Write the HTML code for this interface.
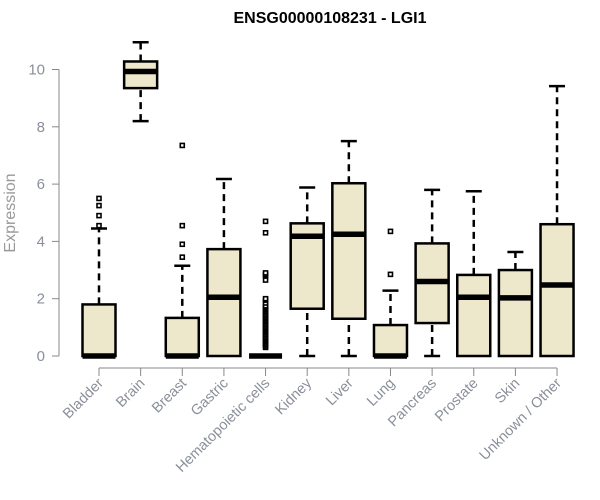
<!DOCTYPE html>
<html><head><meta charset="utf-8"><style>
body{margin:0;background:#fff}
svg{display:block;font-family:"Liberation Sans",Arial,sans-serif}
</style></head><body>
<svg id="chart" width="600" height="500">
<text x="330" y="23" text-anchor="middle" font-weight="bold" font-size="16" fill="#000">ENSG00000108231 - LGI1</text>
<text transform="translate(15,213) rotate(-90)" text-anchor="middle" font-size="16" fill="#999">Expression</text>
<g id="yaxis"></g>
<g id="xaxis"></g>
<g id="boxes"></g>
</svg>
<script>
const categories=["Bladder","Brain","Breast","Gastric","Hematopoietic cells","Kidney","Liver","Lung","Pancreas","Prostate","Skin","Unknown / Other"];
const whiskerLow=[0,8.2,0,0,0,0,0,0,0,0,0,0];
const q1=[0,9.35,0,0,0,1.65,1.3,0,1.15,0,0,0];
const medians=[0,9.93,0,2.05,0,4.18,4.25,0,2.6,2.05,2.03,2.48];
const q3=[1.8,10.28,1.33,3.73,0,4.63,6.03,1.08,3.93,2.83,3.0,4.6];
const whiskerHigh=[4.45,10.95,3.15,6.18,0,5.88,7.5,2.28,5.8,5.75,3.63,9.42];
const outliers=[[4.55,4.9,5.25,5.5],[],[3.45,3.9,4.55,7.35],[],[0.3,0.35,0.4,0.45,0.5,0.55,0.6,0.65,0.7,0.75,0.8,0.85,0.9,0.95,1.0,1.05,1.1,1.15,1.2,1.25,1.3,1.35,1.4,1.45,1.5,1.55,1.6,1.65,1.7,1.75,1.85,1.95,2.0,2.65,2.8,2.85,2.9,4.3,4.7],[],[],[2.85,4.35],[],[],[],[]];
const yTicks=[0,2,4,6,8,10];
const NS="http://www.w3.org/2000/svg";
const y=v=>356-v*28.65;
const x=i=>99+i*41.64;
const bw=33;
function mk(tag,attrs,parent){const e=document.createElementNS(NS,tag);for(const k in attrs)e.setAttribute(k,attrs[k]);parent.appendChild(e);return e;}
const ya=document.getElementById('yaxis');
mk('line',{x1:59,x2:59,y1:y(0),y2:y(10),stroke:'#888'},ya);
yTicks.forEach(t=>{
  mk('line',{x1:52,x2:59,y1:y(t),y2:y(t),stroke:'#888'},ya);
  const tx=mk('text',{x:45,y:y(t)+5,'text-anchor':'end','font-size':15,fill:'#8a8f99'},ya);
  tx.textContent=t;
  
  
});
const xa=document.getElementById('xaxis');
mk('line',{x1:x(0),x2:x(categories.length-1),y1:368,y2:368,stroke:'#888'},xa);
categories.forEach((c,i)=>{
  mk('line',{x1:x(i),x2:x(i),y1:368,y2:376,stroke:'#888'},xa);
  const tx=mk('text',{transform:`translate(${x(i)+5},384) rotate(-45)`,'text-anchor':'end','font-size':14.5,fill:'#8a8f99'},xa);
  tx.textContent=c;
  
  
});
const bx=document.getElementById('boxes');
categories.forEach((c,i)=>{
  const g=mk('g',{},bx);
  
  
  const cx=x(i);
  if(whiskerHigh[i]>q3[i]){
    mk('line',{x1:cx,x2:cx,y1:y(q3[i]),y2:y(whiskerHigh[i]),stroke:'#000','stroke-width':2.5,'stroke-dasharray':'7,5'},g);
    mk('line',{x1:cx-8,x2:cx+8,y1:y(whiskerHigh[i]),y2:y(whiskerHigh[i]),stroke:'#000','stroke-width':2.5},g);
  }
  if(q1[i]>whiskerLow[i]){
    mk('line',{x1:cx,x2:cx,y1:y(whiskerLow[i]),y2:y(q1[i]),stroke:'#000','stroke-width':2.5,'stroke-dasharray':'7,5'},g);
    mk('line',{x1:cx-8,x2:cx+8,y1:y(whiskerLow[i]),y2:y(whiskerLow[i]),stroke:'#000','stroke-width':2.5},g);
  }
  if(q3[i]>q1[i]) mk('rect',{x:cx-bw/2,y:y(q3[i]),width:bw,height:y(q1[i])-y(q3[i]),fill:'#ede7cc',stroke:'#000','stroke-width':2.5},g);
  mk('line',{x1:cx-bw/2,x2:cx+bw/2,y1:y(medians[i]),y2:y(medians[i]),stroke:'#000','stroke-width':5.5},g);
  outliers[i].forEach(o=>{
    mk('rect',{x:cx-2,y:y(o)-2,width:4,height:4,fill:'#fff',stroke:'#000','stroke-width':1.6},g);
  });
});
</script>
</body></html>
